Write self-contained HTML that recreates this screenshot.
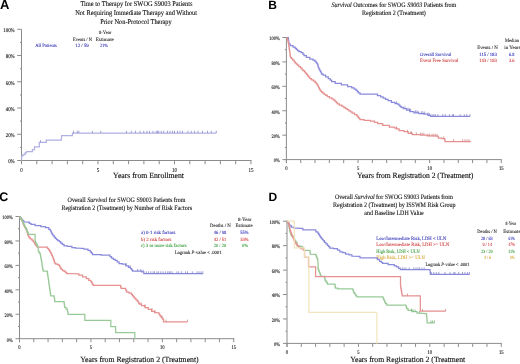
<!DOCTYPE html>
<html><head><meta charset="utf-8"><style>
html,body{margin:0;padding:0;background:#fff;width:520px;height:364px;overflow:hidden}
svg{display:block;will-change:transform}

</style></head><body>
<svg width="520" height="364" viewBox="0 0 520 364" font-family="Liberation Serif" text-rendering="geometricPrecision">
<rect width="520" height="364" fill="#fff"/>
<text x="0" y="8.5" font-size="13" fill="#000" font-family="Liberation Sans" font-weight="bold">A</text>
<text x="268.2" y="9.4" font-size="12" fill="#000" font-family="Liberation Sans" font-weight="bold">B</text>
<text x="-0.7" y="201.1" font-size="12.5" fill="#000" font-family="Liberation Sans" font-weight="bold">C</text>
<text x="268.4" y="201.4" font-size="12" fill="#000" font-family="Liberation Sans" font-weight="bold">D</text>
<text transform="translate(80.4 5.6) scale(1 1.1)" font-size="6.5" fill="#111" stroke="#111" stroke-width="0.1" textLength="112.1" lengthAdjust="spacingAndGlyphs">Time to Therapy for SWOG S9003 Patients</text>
<text transform="translate(75.2 14.6) scale(1 1.1)" font-size="6.5" fill="#111" stroke="#111" stroke-width="0.1" textLength="121.9" lengthAdjust="spacingAndGlyphs">Not Requiring Immediate Therapy and Without</text>
<text transform="translate(100.2 23.8) scale(1 1.1)" font-size="6.5" fill="#111" stroke="#111" stroke-width="0.1" textLength="71.5" lengthAdjust="spacingAndGlyphs">Prior Non-Protocol Therapy</text>
<text transform="translate(331.5 6.6) scale(1 1.1)" font-size="6.2" fill="#111" stroke="#111" stroke-width="0.1" textLength="124.7" lengthAdjust="spacingAndGlyphs"><tspan font-style="italic">Survival</tspan> Outcomes for SWOG <tspan font-style="italic">S9003</tspan> Patients from</text>
<text transform="translate(362 14.8) scale(1 1.1)" font-size="6.2" fill="#111" stroke="#111" stroke-width="0.1" textLength="63.8" lengthAdjust="spacingAndGlyphs">Registration 2 (Treatment)</text>
<text transform="translate(67.6 202.2) scale(1 1.1)" font-size="6.2" fill="#111" stroke="#111" stroke-width="0.1" textLength="117.9" lengthAdjust="spacingAndGlyphs">Overall <tspan font-style="italic">Survival</tspan> for SWOG S9003 Patients from</text>
<text transform="translate(61.4 210.3) scale(1 1.1)" font-size="6.2" fill="#111" stroke="#111" stroke-width="0.1" textLength="130.6" lengthAdjust="spacingAndGlyphs">Registration 2 (Treatment) by Number of Risk Factors</text>
<text transform="translate(335 198.5) scale(1 1.1)" font-size="6.2" fill="#111" stroke="#111" stroke-width="0.1" textLength="118" lengthAdjust="spacingAndGlyphs">Overall <tspan font-style="italic">Survival</tspan> for SWOG S9003 Patients from</text>
<text transform="translate(333 206.8) scale(1 1.1)" font-size="6.2" fill="#111" stroke="#111" stroke-width="0.1" textLength="122.5" lengthAdjust="spacingAndGlyphs">Registration 2 (Treatment) by ISSWM Risk Group</text>
<text transform="translate(364.3 215.3) scale(1 1.1)" font-size="6.2" fill="#111" stroke="#111" stroke-width="0.1" textLength="59.4" lengthAdjust="spacingAndGlyphs">and Baseline LDH Value</text>
<line x1="21.5" y1="29.3" x2="21.5" y2="164" stroke="#8c8c8c" stroke-width="1"/>
<line x1="21" y1="160.5" x2="251.5" y2="160.5" stroke="#8c8c8c" stroke-width="1"/>
<line x1="17.22" y1="160.5" x2="21.5" y2="160.5" stroke="#8c8c8c" stroke-width="1"/>
<text transform="translate(14.7 163.45) scale(1 1.15)" font-size="4.9" fill="#222" stroke="#222" stroke-width="0.12" text-anchor="end">0%</text>
<line x1="20" y1="147.38" x2="21.5" y2="147.38" stroke="#8c8c8c" stroke-width="1"/>
<line x1="17.22" y1="134.26" x2="21.5" y2="134.26" stroke="#8c8c8c" stroke-width="1"/>
<text transform="translate(14.7 137.21) scale(1 1.15)" font-size="4.9" fill="#222" stroke="#222" stroke-width="0.12" text-anchor="end">20%</text>
<line x1="20" y1="121.14" x2="21.5" y2="121.14" stroke="#8c8c8c" stroke-width="1"/>
<line x1="17.22" y1="108.02" x2="21.5" y2="108.02" stroke="#8c8c8c" stroke-width="1"/>
<text transform="translate(14.7 110.97) scale(1 1.15)" font-size="4.9" fill="#222" stroke="#222" stroke-width="0.12" text-anchor="end">40%</text>
<line x1="20" y1="94.9" x2="21.5" y2="94.9" stroke="#8c8c8c" stroke-width="1"/>
<line x1="17.22" y1="81.78" x2="21.5" y2="81.78" stroke="#8c8c8c" stroke-width="1"/>
<text transform="translate(14.7 84.73) scale(1 1.15)" font-size="4.9" fill="#222" stroke="#222" stroke-width="0.12" text-anchor="end">60%</text>
<line x1="20" y1="68.66" x2="21.5" y2="68.66" stroke="#8c8c8c" stroke-width="1"/>
<line x1="17.22" y1="55.54" x2="21.5" y2="55.54" stroke="#8c8c8c" stroke-width="1"/>
<text transform="translate(14.7 58.49) scale(1 1.15)" font-size="4.9" fill="#222" stroke="#222" stroke-width="0.12" text-anchor="end">80%</text>
<line x1="20" y1="42.42" x2="21.5" y2="42.42" stroke="#8c8c8c" stroke-width="1"/>
<line x1="17.22" y1="29.3" x2="21.5" y2="29.3" stroke="#8c8c8c" stroke-width="1"/>
<text transform="translate(14.7 32.25) scale(1 1.15)" font-size="4.9" fill="#222" stroke="#222" stroke-width="0.12" text-anchor="end">100%</text>
<line x1="21.5" y1="160.5" x2="21.5" y2="164.25" stroke="#8c8c8c" stroke-width="1"/>
<text transform="translate(21.5 171.55) scale(1 1.2)" font-size="5" fill="#222" stroke="#222" stroke-width="0.1" text-anchor="middle">0</text>
<line x1="36.8" y1="160.5" x2="36.8" y2="164.25" stroke="#8c8c8c" stroke-width="1"/>
<line x1="52.1" y1="160.5" x2="52.1" y2="164.25" stroke="#8c8c8c" stroke-width="1"/>
<line x1="67.4" y1="160.5" x2="67.4" y2="164.25" stroke="#8c8c8c" stroke-width="1"/>
<line x1="82.7" y1="160.5" x2="82.7" y2="164.25" stroke="#8c8c8c" stroke-width="1"/>
<line x1="98" y1="160.5" x2="98" y2="164.25" stroke="#8c8c8c" stroke-width="1"/>
<text transform="translate(98 171.55) scale(1 1.2)" font-size="5" fill="#222" stroke="#222" stroke-width="0.1" text-anchor="middle">5</text>
<line x1="113.3" y1="160.5" x2="113.3" y2="164.25" stroke="#8c8c8c" stroke-width="1"/>
<line x1="128.6" y1="160.5" x2="128.6" y2="164.25" stroke="#8c8c8c" stroke-width="1"/>
<line x1="143.9" y1="160.5" x2="143.9" y2="164.25" stroke="#8c8c8c" stroke-width="1"/>
<line x1="159.2" y1="160.5" x2="159.2" y2="164.25" stroke="#8c8c8c" stroke-width="1"/>
<line x1="174.5" y1="160.5" x2="174.5" y2="164.25" stroke="#8c8c8c" stroke-width="1"/>
<text transform="translate(174.5 171.55) scale(1 1.2)" font-size="5" fill="#222" stroke="#222" stroke-width="0.1" text-anchor="middle">10</text>
<line x1="189.8" y1="160.5" x2="189.8" y2="164.25" stroke="#8c8c8c" stroke-width="1"/>
<line x1="205.1" y1="160.5" x2="205.1" y2="164.25" stroke="#8c8c8c" stroke-width="1"/>
<line x1="220.4" y1="160.5" x2="220.4" y2="164.25" stroke="#8c8c8c" stroke-width="1"/>
<line x1="235.7" y1="160.5" x2="235.7" y2="164.25" stroke="#8c8c8c" stroke-width="1"/>
<line x1="251" y1="160.5" x2="251" y2="164.25" stroke="#8c8c8c" stroke-width="1"/>
<text transform="translate(251 171.55) scale(1 1.2)" font-size="5" fill="#222" stroke="#222" stroke-width="0.1" text-anchor="middle">15</text>
<line x1="286.4" y1="37.5" x2="286.4" y2="163.1" stroke="#8c8c8c" stroke-width="1"/>
<line x1="285.9" y1="159.6" x2="501.75" y2="159.6" stroke="#8c8c8c" stroke-width="1"/>
<line x1="282.4" y1="159.6" x2="286.4" y2="159.6" stroke="#8c8c8c" stroke-width="1"/>
<text transform="translate(279.8 162.4) scale(1 1.15)" font-size="4.5" fill="#222" stroke="#222" stroke-width="0.12" text-anchor="end">0%</text>
<line x1="284.9" y1="147.39" x2="286.4" y2="147.39" stroke="#8c8c8c" stroke-width="1"/>
<line x1="282.4" y1="135.18" x2="286.4" y2="135.18" stroke="#8c8c8c" stroke-width="1"/>
<text transform="translate(279.8 137.98) scale(1 1.15)" font-size="4.5" fill="#222" stroke="#222" stroke-width="0.12" text-anchor="end">20%</text>
<line x1="284.9" y1="122.97" x2="286.4" y2="122.97" stroke="#8c8c8c" stroke-width="1"/>
<line x1="282.4" y1="110.76" x2="286.4" y2="110.76" stroke="#8c8c8c" stroke-width="1"/>
<text transform="translate(279.8 113.56) scale(1 1.15)" font-size="4.5" fill="#222" stroke="#222" stroke-width="0.12" text-anchor="end">40%</text>
<line x1="284.9" y1="98.55" x2="286.4" y2="98.55" stroke="#8c8c8c" stroke-width="1"/>
<line x1="282.4" y1="86.34" x2="286.4" y2="86.34" stroke="#8c8c8c" stroke-width="1"/>
<text transform="translate(279.8 89.14) scale(1 1.15)" font-size="4.5" fill="#222" stroke="#222" stroke-width="0.12" text-anchor="end">60%</text>
<line x1="284.9" y1="74.13" x2="286.4" y2="74.13" stroke="#8c8c8c" stroke-width="1"/>
<line x1="282.4" y1="61.92" x2="286.4" y2="61.92" stroke="#8c8c8c" stroke-width="1"/>
<text transform="translate(279.8 64.72) scale(1 1.15)" font-size="4.5" fill="#222" stroke="#222" stroke-width="0.12" text-anchor="end">80%</text>
<line x1="284.9" y1="49.71" x2="286.4" y2="49.71" stroke="#8c8c8c" stroke-width="1"/>
<line x1="282.4" y1="37.5" x2="286.4" y2="37.5" stroke="#8c8c8c" stroke-width="1"/>
<text transform="translate(279.8 40.3) scale(1 1.15)" font-size="4.5" fill="#222" stroke="#222" stroke-width="0.12" text-anchor="end">100%</text>
<line x1="286.4" y1="159.6" x2="286.4" y2="163.1" stroke="#8c8c8c" stroke-width="1"/>
<text transform="translate(286.4 169.9) scale(1 1.2)" font-size="4.6" fill="#222" stroke="#222" stroke-width="0.1" text-anchor="middle">0</text>
<line x1="300.72" y1="159.6" x2="300.72" y2="163.1" stroke="#8c8c8c" stroke-width="1"/>
<line x1="315.05" y1="159.6" x2="315.05" y2="163.1" stroke="#8c8c8c" stroke-width="1"/>
<line x1="329.37" y1="159.6" x2="329.37" y2="163.1" stroke="#8c8c8c" stroke-width="1"/>
<line x1="343.69" y1="159.6" x2="343.69" y2="163.1" stroke="#8c8c8c" stroke-width="1"/>
<line x1="358.02" y1="159.6" x2="358.02" y2="163.1" stroke="#8c8c8c" stroke-width="1"/>
<text transform="translate(358.02 169.9) scale(1 1.2)" font-size="4.6" fill="#222" stroke="#222" stroke-width="0.1" text-anchor="middle">5</text>
<line x1="372.34" y1="159.6" x2="372.34" y2="163.1" stroke="#8c8c8c" stroke-width="1"/>
<line x1="386.66" y1="159.6" x2="386.66" y2="163.1" stroke="#8c8c8c" stroke-width="1"/>
<line x1="400.99" y1="159.6" x2="400.99" y2="163.1" stroke="#8c8c8c" stroke-width="1"/>
<line x1="415.31" y1="159.6" x2="415.31" y2="163.1" stroke="#8c8c8c" stroke-width="1"/>
<line x1="429.63" y1="159.6" x2="429.63" y2="163.1" stroke="#8c8c8c" stroke-width="1"/>
<text transform="translate(429.63 169.9) scale(1 1.2)" font-size="4.6" fill="#222" stroke="#222" stroke-width="0.1" text-anchor="middle">10</text>
<line x1="443.96" y1="159.6" x2="443.96" y2="163.1" stroke="#8c8c8c" stroke-width="1"/>
<line x1="458.28" y1="159.6" x2="458.28" y2="163.1" stroke="#8c8c8c" stroke-width="1"/>
<line x1="472.6" y1="159.6" x2="472.6" y2="163.1" stroke="#8c8c8c" stroke-width="1"/>
<line x1="486.93" y1="159.6" x2="486.93" y2="163.1" stroke="#8c8c8c" stroke-width="1"/>
<line x1="501.25" y1="159.6" x2="501.25" y2="163.1" stroke="#8c8c8c" stroke-width="1"/>
<text transform="translate(501.25 169.9) scale(1 1.2)" font-size="4.6" fill="#222" stroke="#222" stroke-width="0.1" text-anchor="middle">15</text>
<line x1="19.5" y1="216.5" x2="19.5" y2="342.2" stroke="#8c8c8c" stroke-width="1"/>
<line x1="19" y1="338.7" x2="234.25" y2="338.7" stroke="#8c8c8c" stroke-width="1"/>
<line x1="15.5" y1="338.7" x2="19.5" y2="338.7" stroke="#8c8c8c" stroke-width="1"/>
<text transform="translate(12.7 341.5) scale(1 1.15)" font-size="4.5" fill="#222" stroke="#222" stroke-width="0.12" text-anchor="end">0%</text>
<line x1="18" y1="326.48" x2="19.5" y2="326.48" stroke="#8c8c8c" stroke-width="1"/>
<line x1="15.5" y1="314.26" x2="19.5" y2="314.26" stroke="#8c8c8c" stroke-width="1"/>
<text transform="translate(12.7 317.06) scale(1 1.15)" font-size="4.5" fill="#222" stroke="#222" stroke-width="0.12" text-anchor="end">20%</text>
<line x1="18" y1="302.04" x2="19.5" y2="302.04" stroke="#8c8c8c" stroke-width="1"/>
<line x1="15.5" y1="289.82" x2="19.5" y2="289.82" stroke="#8c8c8c" stroke-width="1"/>
<text transform="translate(12.7 292.62) scale(1 1.15)" font-size="4.5" fill="#222" stroke="#222" stroke-width="0.12" text-anchor="end">40%</text>
<line x1="18" y1="277.6" x2="19.5" y2="277.6" stroke="#8c8c8c" stroke-width="1"/>
<line x1="15.5" y1="265.38" x2="19.5" y2="265.38" stroke="#8c8c8c" stroke-width="1"/>
<text transform="translate(12.7 268.18) scale(1 1.15)" font-size="4.5" fill="#222" stroke="#222" stroke-width="0.12" text-anchor="end">60%</text>
<line x1="18" y1="253.16" x2="19.5" y2="253.16" stroke="#8c8c8c" stroke-width="1"/>
<line x1="15.5" y1="240.94" x2="19.5" y2="240.94" stroke="#8c8c8c" stroke-width="1"/>
<text transform="translate(12.7 243.74) scale(1 1.15)" font-size="4.5" fill="#222" stroke="#222" stroke-width="0.12" text-anchor="end">80%</text>
<line x1="18" y1="228.72" x2="19.5" y2="228.72" stroke="#8c8c8c" stroke-width="1"/>
<line x1="15.5" y1="216.5" x2="19.5" y2="216.5" stroke="#8c8c8c" stroke-width="1"/>
<text transform="translate(12.7 219.3) scale(1 1.15)" font-size="4.5" fill="#222" stroke="#222" stroke-width="0.12" text-anchor="end">100%</text>
<line x1="19.5" y1="338.7" x2="19.5" y2="342.2" stroke="#8c8c8c" stroke-width="1"/>
<text transform="translate(19.5 349) scale(1 1.2)" font-size="4.6" fill="#222" stroke="#222" stroke-width="0.1" text-anchor="middle">0</text>
<line x1="33.78" y1="338.7" x2="33.78" y2="342.2" stroke="#8c8c8c" stroke-width="1"/>
<line x1="48.07" y1="338.7" x2="48.07" y2="342.2" stroke="#8c8c8c" stroke-width="1"/>
<line x1="62.35" y1="338.7" x2="62.35" y2="342.2" stroke="#8c8c8c" stroke-width="1"/>
<line x1="76.63" y1="338.7" x2="76.63" y2="342.2" stroke="#8c8c8c" stroke-width="1"/>
<line x1="90.92" y1="338.7" x2="90.92" y2="342.2" stroke="#8c8c8c" stroke-width="1"/>
<text transform="translate(90.92 349) scale(1 1.2)" font-size="4.6" fill="#222" stroke="#222" stroke-width="0.1" text-anchor="middle">5</text>
<line x1="105.2" y1="338.7" x2="105.2" y2="342.2" stroke="#8c8c8c" stroke-width="1"/>
<line x1="119.48" y1="338.7" x2="119.48" y2="342.2" stroke="#8c8c8c" stroke-width="1"/>
<line x1="133.77" y1="338.7" x2="133.77" y2="342.2" stroke="#8c8c8c" stroke-width="1"/>
<line x1="148.05" y1="338.7" x2="148.05" y2="342.2" stroke="#8c8c8c" stroke-width="1"/>
<line x1="162.33" y1="338.7" x2="162.33" y2="342.2" stroke="#8c8c8c" stroke-width="1"/>
<text transform="translate(162.33 349) scale(1 1.2)" font-size="4.6" fill="#222" stroke="#222" stroke-width="0.1" text-anchor="middle">10</text>
<line x1="176.62" y1="338.7" x2="176.62" y2="342.2" stroke="#8c8c8c" stroke-width="1"/>
<line x1="190.9" y1="338.7" x2="190.9" y2="342.2" stroke="#8c8c8c" stroke-width="1"/>
<line x1="205.18" y1="338.7" x2="205.18" y2="342.2" stroke="#8c8c8c" stroke-width="1"/>
<line x1="219.47" y1="338.7" x2="219.47" y2="342.2" stroke="#8c8c8c" stroke-width="1"/>
<line x1="233.75" y1="338.7" x2="233.75" y2="342.2" stroke="#8c8c8c" stroke-width="1"/>
<text transform="translate(233.75 349) scale(1 1.2)" font-size="4.6" fill="#222" stroke="#222" stroke-width="0.1" text-anchor="middle">15</text>
<line x1="287" y1="221.2" x2="287" y2="346.9" stroke="#8c8c8c" stroke-width="1"/>
<line x1="286.5" y1="343.4" x2="501.75" y2="343.4" stroke="#8c8c8c" stroke-width="1"/>
<line x1="283" y1="343.4" x2="287" y2="343.4" stroke="#8c8c8c" stroke-width="1"/>
<text transform="translate(280.1 346.2) scale(1 1.15)" font-size="4.5" fill="#222" stroke="#222" stroke-width="0.12" text-anchor="end">0%</text>
<line x1="285.5" y1="331.18" x2="287" y2="331.18" stroke="#8c8c8c" stroke-width="1"/>
<line x1="283" y1="318.96" x2="287" y2="318.96" stroke="#8c8c8c" stroke-width="1"/>
<text transform="translate(280.1 321.76) scale(1 1.15)" font-size="4.5" fill="#222" stroke="#222" stroke-width="0.12" text-anchor="end">20%</text>
<line x1="285.5" y1="306.74" x2="287" y2="306.74" stroke="#8c8c8c" stroke-width="1"/>
<line x1="283" y1="294.52" x2="287" y2="294.52" stroke="#8c8c8c" stroke-width="1"/>
<text transform="translate(280.1 297.32) scale(1 1.15)" font-size="4.5" fill="#222" stroke="#222" stroke-width="0.12" text-anchor="end">40%</text>
<line x1="285.5" y1="282.3" x2="287" y2="282.3" stroke="#8c8c8c" stroke-width="1"/>
<line x1="283" y1="270.08" x2="287" y2="270.08" stroke="#8c8c8c" stroke-width="1"/>
<text transform="translate(280.1 272.88) scale(1 1.15)" font-size="4.5" fill="#222" stroke="#222" stroke-width="0.12" text-anchor="end">60%</text>
<line x1="285.5" y1="257.86" x2="287" y2="257.86" stroke="#8c8c8c" stroke-width="1"/>
<line x1="283" y1="245.64" x2="287" y2="245.64" stroke="#8c8c8c" stroke-width="1"/>
<text transform="translate(280.1 248.44) scale(1 1.15)" font-size="4.5" fill="#222" stroke="#222" stroke-width="0.12" text-anchor="end">80%</text>
<line x1="285.5" y1="233.42" x2="287" y2="233.42" stroke="#8c8c8c" stroke-width="1"/>
<line x1="283" y1="221.2" x2="287" y2="221.2" stroke="#8c8c8c" stroke-width="1"/>
<text transform="translate(280.1 224) scale(1 1.15)" font-size="4.5" fill="#222" stroke="#222" stroke-width="0.12" text-anchor="end">100%</text>
<line x1="287" y1="343.4" x2="287" y2="346.9" stroke="#8c8c8c" stroke-width="1"/>
<text transform="translate(287 353.7) scale(1 1.2)" font-size="4.6" fill="#222" stroke="#222" stroke-width="0.1" text-anchor="middle">0</text>
<line x1="301.28" y1="343.4" x2="301.28" y2="346.9" stroke="#8c8c8c" stroke-width="1"/>
<line x1="315.57" y1="343.4" x2="315.57" y2="346.9" stroke="#8c8c8c" stroke-width="1"/>
<line x1="329.85" y1="343.4" x2="329.85" y2="346.9" stroke="#8c8c8c" stroke-width="1"/>
<line x1="344.13" y1="343.4" x2="344.13" y2="346.9" stroke="#8c8c8c" stroke-width="1"/>
<line x1="358.42" y1="343.4" x2="358.42" y2="346.9" stroke="#8c8c8c" stroke-width="1"/>
<text transform="translate(358.42 353.7) scale(1 1.2)" font-size="4.6" fill="#222" stroke="#222" stroke-width="0.1" text-anchor="middle">5</text>
<line x1="372.7" y1="343.4" x2="372.7" y2="346.9" stroke="#8c8c8c" stroke-width="1"/>
<line x1="386.98" y1="343.4" x2="386.98" y2="346.9" stroke="#8c8c8c" stroke-width="1"/>
<line x1="401.27" y1="343.4" x2="401.27" y2="346.9" stroke="#8c8c8c" stroke-width="1"/>
<line x1="415.55" y1="343.4" x2="415.55" y2="346.9" stroke="#8c8c8c" stroke-width="1"/>
<line x1="429.83" y1="343.4" x2="429.83" y2="346.9" stroke="#8c8c8c" stroke-width="1"/>
<text transform="translate(429.83 353.7) scale(1 1.2)" font-size="4.6" fill="#222" stroke="#222" stroke-width="0.1" text-anchor="middle">10</text>
<line x1="444.12" y1="343.4" x2="444.12" y2="346.9" stroke="#8c8c8c" stroke-width="1"/>
<line x1="458.4" y1="343.4" x2="458.4" y2="346.9" stroke="#8c8c8c" stroke-width="1"/>
<line x1="472.68" y1="343.4" x2="472.68" y2="346.9" stroke="#8c8c8c" stroke-width="1"/>
<line x1="486.97" y1="343.4" x2="486.97" y2="346.9" stroke="#8c8c8c" stroke-width="1"/>
<line x1="501.25" y1="343.4" x2="501.25" y2="346.9" stroke="#8c8c8c" stroke-width="1"/>
<text transform="translate(501.25 353.7) scale(1 1.2)" font-size="4.6" fill="#222" stroke="#222" stroke-width="0.1" text-anchor="middle">15</text>
<text x="113.1" y="178" font-size="8" fill="#111" stroke="#111" stroke-width="0.14" textLength="70.9" lengthAdjust="spacingAndGlyphs">Years from Enrollment</text>
<text x="357" y="178.2" font-size="8" fill="#111" stroke="#111" stroke-width="0.14" textLength="116.4" lengthAdjust="spacingAndGlyphs">Years from Registration 2 (Treatment)</text>
<text x="80.2" y="362.4" font-size="8" fill="#111" stroke="#111" stroke-width="0.14" textLength="118.5" lengthAdjust="spacingAndGlyphs">Years from Registration 2 (Treatment)</text>
<text x="350.2" y="362" font-size="8" fill="#111" stroke="#111" stroke-width="0.14" textLength="115" lengthAdjust="spacingAndGlyphs">Years from Registration 2 (Treatment</text>
<text transform="translate(98.9 34.35) scale(1 1.1)" font-size="4.4" fill="#222" stroke="#222" stroke-width="0.08" textLength="12.4" lengthAdjust="spacingAndGlyphs">8-Year</text>
<text transform="translate(72.9 40.75) scale(1 1.1)" font-size="4.4" fill="#222" stroke="#222" stroke-width="0.08" textLength="19" lengthAdjust="spacingAndGlyphs">Events / N</text>
<text transform="translate(95.7 40.75) scale(1 1.1)" font-size="4.4" fill="#222" stroke="#222" stroke-width="0.08" textLength="18.2" lengthAdjust="spacingAndGlyphs">Estimate</text>
<text transform="translate(35.2 46.75) scale(1 1.1)" font-size="4.4" fill="#3434b8" stroke="#3434b8" stroke-width="0.08" textLength="21.6" lengthAdjust="spacingAndGlyphs">All Patients</text>
<text transform="translate(75.3 46.75) scale(1 1.1)" font-size="4.4" fill="#3434b8" stroke="#3434b8" stroke-width="0.08" textLength="13.5" lengthAdjust="spacingAndGlyphs">12 / 59</text>
<text transform="translate(100 46.75) scale(1 1.1)" font-size="4.4" fill="#3434b8" stroke="#3434b8" stroke-width="0.08" textLength="7.9" lengthAdjust="spacingAndGlyphs">21%</text>
<text transform="translate(504.9 42.15) scale(1 1.1)" font-size="4.4" fill="#222" stroke="#222" stroke-width="0.08" textLength="14.1" lengthAdjust="spacingAndGlyphs">Median</text>
<text transform="translate(504.3 49.15) scale(1 1.1)" font-size="4.4" fill="#222" stroke="#222" stroke-width="0.08" textLength="16.5" lengthAdjust="spacingAndGlyphs">in Years</text>
<text transform="translate(477.2 49.15) scale(1 1.1)" font-size="4.4" fill="#222" stroke="#222" stroke-width="0.08" textLength="20.6" lengthAdjust="spacingAndGlyphs">Events / N</text>
<text transform="translate(420 55.65) scale(1 1.1)" font-size="4.4" fill="#3434b8" stroke="#3434b8" stroke-width="0.08" textLength="31.4" lengthAdjust="spacingAndGlyphs">Overall Survival</text>
<text transform="translate(479.2 55.65) scale(1 1.1)" font-size="4.4" fill="#3434b8" stroke="#3434b8" stroke-width="0.08" textLength="17.6" lengthAdjust="spacingAndGlyphs">115 / 183</text>
<text transform="translate(508.9 55.65) scale(1 1.1)" font-size="4.4" fill="#3434b8" stroke="#3434b8" stroke-width="0.08" textLength="5.5" lengthAdjust="spacingAndGlyphs">6.8</text>
<text transform="translate(420 61.95) scale(1 1.1)" font-size="4.4" fill="#d04040" stroke="#d04040" stroke-width="0.08" textLength="38.4" lengthAdjust="spacingAndGlyphs">Event Free Survival</text>
<text transform="translate(479.2 61.95) scale(1 1.1)" font-size="4.4" fill="#d04040" stroke="#d04040" stroke-width="0.08" textLength="17.6" lengthAdjust="spacingAndGlyphs">143 / 183</text>
<text transform="translate(508.9 61.95) scale(1 1.1)" font-size="4.4" fill="#d04040" stroke="#d04040" stroke-width="0.08" textLength="5.5" lengthAdjust="spacingAndGlyphs">3.6</text>
<text transform="translate(237.9 220.55) scale(1 1.1)" font-size="4.4" fill="#222" stroke="#222" stroke-width="0.08" textLength="13.4" lengthAdjust="spacingAndGlyphs">8-Year</text>
<text transform="translate(210 227.05) scale(1 1.1)" font-size="4.4" fill="#222" stroke="#222" stroke-width="0.08" textLength="20.7" lengthAdjust="spacingAndGlyphs">Deaths / N</text>
<text transform="translate(235.5 227.05) scale(1 1.1)" font-size="4.4" fill="#222" stroke="#222" stroke-width="0.08" textLength="17.3" lengthAdjust="spacingAndGlyphs">Estimate</text>
<text transform="translate(141 233.75) scale(1 1.1)" font-size="4.4" fill="#3434b8" stroke="#3434b8" stroke-width="0.08" textLength="34.4" lengthAdjust="spacingAndGlyphs">a) 0-1 risk factors</text>
<text transform="translate(213.8 233.75) scale(1 1.1)" font-size="4.4" fill="#3434b8" stroke="#3434b8" stroke-width="0.08" textLength="12.5" lengthAdjust="spacingAndGlyphs">46 / 98</text>
<text transform="translate(240.3 233.75) scale(1 1.1)" font-size="4.4" fill="#3434b8" stroke="#3434b8" stroke-width="0.08" textLength="8.2" lengthAdjust="spacingAndGlyphs">55%</text>
<text transform="translate(141 240.55) scale(1 1.1)" font-size="4.4" fill="#d04040" stroke="#d04040" stroke-width="0.08" textLength="30.5" lengthAdjust="spacingAndGlyphs">b) 2 risk factors</text>
<text transform="translate(213.8 240.55) scale(1 1.1)" font-size="4.4" fill="#d04040" stroke="#d04040" stroke-width="0.08" textLength="12.5" lengthAdjust="spacingAndGlyphs">42 / 51</text>
<text transform="translate(240.3 240.55) scale(1 1.1)" font-size="4.4" fill="#d04040" stroke="#d04040" stroke-width="0.08" textLength="8.2" lengthAdjust="spacingAndGlyphs">33%</text>
<text transform="translate(141 247.25) scale(1 1.1)" font-size="4.4" fill="#3c9c3c" stroke="#3c9c3c" stroke-width="0.08" textLength="45.7" lengthAdjust="spacingAndGlyphs">c) 3 or more risk factors</text>
<text transform="translate(213.8 247.25) scale(1 1.1)" font-size="4.4" fill="#3c9c3c" stroke="#3c9c3c" stroke-width="0.08" textLength="12.3" lengthAdjust="spacingAndGlyphs">20 / 20</text>
<text transform="translate(242 247.25) scale(1 1.1)" font-size="4.4" fill="#3c9c3c" stroke="#3c9c3c" stroke-width="0.08" textLength="6" lengthAdjust="spacingAndGlyphs">0%</text>
<text transform="translate(174.7 254.25) scale(1 1.1)" font-size="4.4" fill="#222" stroke="#222" stroke-width="0.08" textLength="46.8" lengthAdjust="spacingAndGlyphs">Logrank <tspan font-style="italic">P</tspan>-value &lt; .0001</text>
<text transform="translate(505.6 225.45) scale(1 1.1)" font-size="4.4" fill="#222" stroke="#222" stroke-width="0.08" textLength="10.5" lengthAdjust="spacingAndGlyphs">8-Year</text>
<text transform="translate(477.3 233.25) scale(1 1.1)" font-size="4.4" fill="#222" stroke="#222" stroke-width="0.08" textLength="19.6" lengthAdjust="spacingAndGlyphs">Deaths / N</text>
<text transform="translate(503.3 233.25) scale(1 1.1)" font-size="4.4" fill="#222" stroke="#222" stroke-width="0.08" textLength="17.3" lengthAdjust="spacingAndGlyphs">Estimate</text>
<text transform="translate(376.3 239.85) scale(1 1.1)" font-size="4.4" fill="#3434b8" stroke="#3434b8" stroke-width="0.08" textLength="70.1" lengthAdjust="spacingAndGlyphs">Low/Intermediate Risk, LDH &lt; ULN</text>
<text transform="translate(481 239.85) scale(1 1.1)" font-size="4.4" fill="#3434b8" stroke="#3434b8" stroke-width="0.08" textLength="11.6" lengthAdjust="spacingAndGlyphs">28 / 63</text>
<text transform="translate(508.4 239.85) scale(1 1.1)" font-size="4.4" fill="#3434b8" stroke="#3434b8" stroke-width="0.08" textLength="6.4" lengthAdjust="spacingAndGlyphs">61%</text>
<text transform="translate(376.3 246.25) scale(1 1.1)" font-size="4.4" fill="#d04040" stroke="#d04040" stroke-width="0.08" textLength="73" lengthAdjust="spacingAndGlyphs">Low/Intermediate Risk, LDH &gt;= ULN</text>
<text transform="translate(482.5 246.25) scale(1 1.1)" font-size="4.4" fill="#d04040" stroke="#d04040" stroke-width="0.08" textLength="9.5" lengthAdjust="spacingAndGlyphs">9 / 14</text>
<text transform="translate(508.4 246.25) scale(1 1.1)" font-size="4.4" fill="#d04040" stroke="#d04040" stroke-width="0.08" textLength="6.6" lengthAdjust="spacingAndGlyphs">47%</text>
<text transform="translate(376.3 252.85) scale(1 1.1)" font-size="4.4" fill="#3c9c3c" stroke="#3c9c3c" stroke-width="0.08" textLength="43.3" lengthAdjust="spacingAndGlyphs">High Risk, LDH &lt; ULN</text>
<text transform="translate(481 252.85) scale(1 1.1)" font-size="4.4" fill="#3c9c3c" stroke="#3c9c3c" stroke-width="0.08" textLength="11.6" lengthAdjust="spacingAndGlyphs">23 / 29</text>
<text transform="translate(508.4 252.85) scale(1 1.1)" font-size="4.4" fill="#3c9c3c" stroke="#3c9c3c" stroke-width="0.08" textLength="6.4" lengthAdjust="spacingAndGlyphs">31%</text>
<text transform="translate(376.3 259.15) scale(1 1.1)" font-size="4.4" fill="#d8a838" stroke="#d8a838" stroke-width="0.08" textLength="48.5" lengthAdjust="spacingAndGlyphs">High Risk, LDH &gt;= ULN</text>
<text transform="translate(484 259.15) scale(1 1.1)" font-size="4.4" fill="#d8a838" stroke="#d8a838" stroke-width="0.08" textLength="7" lengthAdjust="spacingAndGlyphs">4 / 6</text>
<text transform="translate(510 259.15) scale(1 1.1)" font-size="4.4" fill="#d8a838" stroke="#d8a838" stroke-width="0.08" textLength="4.5" lengthAdjust="spacingAndGlyphs">0%</text>
<text transform="translate(425.4 265.85) scale(1 1.1)" font-size="4.4" fill="#222" stroke="#222" stroke-width="0.08" textLength="44.1" lengthAdjust="spacingAndGlyphs">Logrank <tspan font-style="italic">P</tspan>-value &lt; .0001</text>
<polyline points="21.5,160.5 21.7,156.2 22.45,156.2 22.45,155.2 23.2,155.2 23.85,155.2 23.85,154.3 24.5,154.3 25.15,154.3 25.15,152.8 25.8,152.8 26.5,152.8 26.5,151.5 27.2,151.5 32.4,151.5 32.4,149.5 34.5,149.5 34.5,146.9 39.3,146.9 39.3,142.3 46.3,142.3 46.3,140 61.3,140 61.6,135.7 72.2,135.7 72.33,135.7 72.33,134.35 72.58,134.35 72.58,133 72.7,133 216.5,133" fill="none" stroke="#b0b0e4" stroke-width="1.25" stroke-opacity="1" stroke-linejoin="miter"/>
<path d="M40.5 142.3v-2.3M73.5 133v-2.3M77.3 133v-2.3M78.8 133v-2.3M92.4 133v-2.3M100.8 133v-2.3M126.5 133v-2.3M131.25 133v-2.3M135.5 133v-2.3M140 133v-2.3M143.75 133v-2.3M147 133v-2.3M149.5 133v-2.3M153 133v-2.3M156.25 133v-2.3M157.5 133v-2.3M158.75 133v-2.3M161.25 133v-2.3M163.75 133v-2.3M167.5 133v-2.3M170 133v-2.3M172.5 133v-2.3M174.5 133v-2.3M177.5 133v-2.3M180 133v-2.3M182.5 133v-2.3M188 133v-2.3M191.25 133v-2.3M194.5 133v-2.3M198 133v-2.3M202.5 133v-2.3M207.5 133v-2.3M211.25 133v-2.3M216.25 133v-2.3" stroke="#8080c8" stroke-width="0.7" fill="none"/>
<polyline points="286.4,37.6 288.1,37.6 288.35,37.6 288.35,39.5 288.6,39.5 289,43.9 290.2,43.9 290.2,45.5 291.4,45.5 293.05,45.5 293.05,47.2 294.7,47.2 295.25,47.2 295.25,48.3 296.35,48.3 296.35,49.4 297.45,49.4 297.45,50.5 298,50.5 299,50.5 299,51.5 300,51.5 301.15,51.5 301.15,52.7 302.3,52.7 302.88,52.7 302.88,54.15 304.03,54.15 304.03,55.6 304.6,55.6 306.35,55.6 306.35,57.3 308.1,57.3 309.8,57.3 309.8,59 311.5,59 312.95,59 312.95,60.2 314.4,60.2 314.97,60.2 314.97,61.35 316.12,61.35 316.12,62.5 316.7,62.5 317,62.5 317,63.65 317.6,63.65 317.6,64.8 317.9,64.8 318.05,64.8 318.05,66.25 318.35,66.25 318.35,67.7 318.5,67.7 318.93,67.7 318.93,69.15 319.77,69.15 319.77,70.6 320.2,70.6 320.48,70.6 320.48,71.73 321.05,71.73 321.05,72.87 321.62,72.87 321.62,74 321.9,74 323.05,74 323.05,75.2 324.2,75.2 325.65,75.2 325.65,76.9 327.1,76.9 328.25,76.9 328.25,78.7 329.4,78.7 330.15,78.7 330.15,80.15 331.65,80.15 331.65,81.6 332.4,81.6 335.25,81.6 335.25,83.3 338.1,83.3 341.4,83.3 341.4,84.9 344.7,84.9 347.6,84.9 347.6,86.6 350.5,86.6 351.75,86.6 351.75,87.85 354.25,87.85 354.25,89.1 355.5,89.1 356.08,89.1 356.08,90.33 357.25,90.33 357.25,91.57 358.42,91.57 358.42,92.8 359,92.8 360,92.8 360,94 361,94 375.5,94 377.45,94 377.45,95.7 379.4,95.7 380.62,95.7 380.62,96.9 383.07,96.9 383.07,98.1 384.3,98.1 385.55,98.1 385.55,99.35 388.05,99.35 388.05,100.6 389.3,100.6 391.35,100.6 391.35,102.3 393.4,102.3 395.05,102.3 395.05,103.6 396.7,103.6 397.5,103.6 397.5,104.1 398.3,104.1 398.85,104.1 398.85,105.2 399.95,105.2 399.95,106.3 401.05,106.3 401.05,107.4 401.6,107.4 403.25,107.4 403.25,108.6 404.9,108.6 406.55,108.6 406.55,110.05 409.85,110.05 409.85,111.5 411.5,111.5 413.95,111.5 413.95,112.8 416.4,112.8 418.9,112.8 418.9,113.5 421.4,113.5 423.85,113.5 423.85,114 426.3,114 427.95,114 427.95,115.4 429.6,115.4 430.45,115.4 430.45,116.4 431.3,116.4 470,116.4" fill="none" stroke="#8a8adc" stroke-width="1.25" stroke-opacity="1" stroke-linejoin="miter"/>
<path d="M396.6 103.56v-2.3M404.9 108.6v-2.3M408 109.96v-2.3M409.5 110.62v-2.3M410.7 111.15v-2.3M415.6 112.59v-2.3M417 112.88v-2.3M418.1 113.04v-2.3M421.4 113.5v-2.3M423 113.66v-2.3M424.7 113.84v-2.3M428 114.72v-2.3M429.6 115.4v-2.3M432.1 116.4v-2.3M433.8 116.4v-2.3M435.4 116.4v-2.3M437.9 116.4v-2.3M442.8 116.4v-2.3M445.3 116.4v-2.3M449.4 116.4v-2.3M452.7 116.4v-2.3M453.6 116.4v-2.3M460.2 116.4v-2.3M464.3 116.4v-2.3M466.8 116.4v-2.3M470 116.4v-2.3" stroke="#7878c4" stroke-width="0.7" fill="none"/>
<polyline points="286.4,37.6 286.95,37.6 286.95,38.5 287.5,38.5 287.64,38.5 287.64,39.85 287.91,39.85 287.91,41.2 288.19,41.2 288.19,42.55 288.46,42.55 288.46,43.9 288.6,43.9 288.7,43.9 288.7,45.27 288.9,45.27 288.9,46.63 289.1,46.63 289.1,48 289.3,48 289.3,49.37 289.5,49.37 289.5,50.73 289.7,50.73 289.7,52.1 289.8,52.1 289.88,52.1 289.88,53.53 290.05,53.53 290.05,54.97 290.22,54.97 290.22,56.4 290.3,56.4 290.7,56.4 290.7,57.5 291.5,57.5 291.5,58.6 291.9,58.6 292.75,58.6 292.75,60.2 293.6,60.2 294.15,60.2 294.15,61.9 294.7,61.9 295.25,61.9 295.25,63 296.35,63 296.35,64.1 297.45,64.1 297.45,65.2 298,65.2 298.82,65.2 298.82,66.55 300.48,66.55 300.48,67.9 301.3,67.9 301.7,67.9 301.7,68.95 302.5,68.95 302.5,70 302.9,70 303.35,70 303.35,70.6 303.8,70.6 304.35,70.6 304.35,71.87 305.45,71.87 305.45,73.13 306.55,73.13 306.55,74.4 307.1,74.4 307.65,74.4 307.65,75.77 308.75,75.77 308.75,77.13 309.85,77.13 309.85,78.5 310.4,78.5 311.42,78.5 311.42,79.75 313.48,79.75 313.48,81 314.5,81 315.05,81 315.05,82.37 316.15,82.37 316.15,83.73 317.25,83.73 317.25,85.1 317.8,85.1 318.07,85.1 318.07,86.3 318.62,86.3 318.62,87.5 319.18,87.5 319.18,88.7 319.73,88.7 319.73,89.9 320,89.9 320.55,89.9 320.55,91 321.65,91 321.65,92.1 322.75,92.1 322.75,93.2 323.3,93.2 324.12,93.2 324.12,94.3 325.75,94.3 325.75,95.4 327.38,95.4 327.38,96.5 328.2,96.5 329.45,96.5 329.45,97.75 331.95,97.75 331.95,99 333.2,99 333.81,99 333.81,100.22 335.04,100.22 335.04,101.45 336.26,101.45 336.26,102.68 337.49,102.68 337.49,103.9 338.1,103.9 339.35,103.9 339.35,105.15 341.85,105.15 341.85,106.4 343.1,106.4 343.92,106.4 343.92,107.5 345.55,107.5 345.55,108.6 347.18,108.6 347.18,109.7 348,109.7 348.83,109.7 348.83,110.8 350.5,110.8 350.5,111.9 352.17,111.9 352.17,113 353,113 354.65,113 354.65,114.6 356.3,114.6 356.81,114.6 356.81,115.85 357.84,115.85 357.84,117.1 358.86,117.1 358.86,118.35 359.89,118.35 359.89,119.6 360.4,119.6 364.1,119.6 364.1,120.4 367.8,120.4 370.3,120.4 370.3,121.2 372.8,121.2 374.45,121.2 374.45,122.45 377.75,122.45 377.75,123.7 379.4,123.7 382.7,123.7 382.7,125.4 386,125.4 389.3,125.4 389.3,127 392.6,127 394.25,127 394.25,127.8 395.9,127.8 396.25,127.8 396.25,128.8 396.6,128.8 399.1,128.8 399.1,130.5 401.6,130.5 404.05,130.5 404.05,131.6 406.5,131.6 408.15,131.6 408.15,133.3 409.8,133.3 412.3,133.3 412.3,134.6 414.8,134.6 420.55,134.6 420.55,135.1 426.3,135.1 427.15,135.1 427.15,135.9 428,135.9 437.9,136.2 438.1,136.2 438.1,137.2 438.5,137.2 438.5,138.2 438.7,138.2 441.6,138.2 441.6,138.7 444.5,138.7 444.7,138.7 444.7,140.1 445.1,140.1 445.1,141.5 445.3,141.5 470.9,141.5" fill="none" stroke="#e69090" stroke-width="1.25" stroke-opacity="1" stroke-linejoin="miter"/>
<path d="M396.6 128.8v-2.3M407.4 132.06v-2.3M410.7 133.53v-2.3M411.5 133.74v-2.3M416.4 134.67v-2.3M420.6 134.85v-2.3M422.3 134.93v-2.3M423.9 135v-2.3M428 135.9v-2.3M429.6 135.95v-2.3M432 136.02v-2.3M433.7 136.07v-2.3M435.3 136.12v-2.3M437 136.17v-2.3M443.7 138.63v-2.3M453.6 141.5v-2.3M462.6 141.5v-2.3M465 141.5v-2.3M467 141.5v-2.3M469 141.5v-2.3" stroke="#d07c7c" stroke-width="0.7" fill="none"/>
<polyline points="19.5,216.5 20.12,216.5 20.12,217.95 21.38,217.95 21.38,219.4 22,219.4 22.6,219.4 22.6,220.65 23.8,220.65 23.8,221.9 24.4,221.9 28.5,222.2 29.32,222.2 29.32,223.3 30.98,223.3 30.98,224.4 31.8,224.4 35.1,224.4 35.1,225.5 38.4,225.5 40.9,225.5 40.9,226.5 43.4,226.5 45.45,226.5 45.45,227.7 47.5,227.7 48.75,227.7 48.75,229.3 50,229.3 50.31,229.3 50.31,230.55 50.94,230.55 50.94,231.8 51.56,231.8 51.56,233.05 52.19,233.05 52.19,234.3 52.5,234.3 53.05,234.3 53.05,235.67 54.15,235.67 54.15,237.03 55.25,237.03 55.25,238.4 55.8,238.4 56.48,238.4 56.48,239.5 57.85,239.5 57.85,240.6 59.22,240.6 59.22,241.7 59.9,241.7 60.72,241.7 60.72,243.07 62.35,243.07 62.35,244.43 63.98,244.43 63.98,245.8 64.8,245.8 67.3,245.8 67.3,246.3 69.8,246.3 71.85,246.3 71.85,247.5 73.9,247.5 75.15,247.5 75.15,248 76.4,248 81.3,248.3 83.8,248.3 83.8,249.1 86.3,249.1 87.95,249.1 87.95,250.3 89.6,250.3 90.2,250.3 90.2,251.75 91.4,251.75 91.4,253.2 92,253.2 92.55,253.2 92.55,254.5 93.1,254.5 101.15,254.5 101.15,255 109.2,255 109.97,255 109.97,256.55 111.53,256.55 111.53,258.1 112.3,258.1 113.28,258.1 113.28,259.25 115.22,259.25 115.22,260.4 116.2,260.4 117.15,260.4 117.15,261.95 119.05,261.95 119.05,263.5 120,263.5 122.3,263.5 122.3,264.2 124.6,264.2 125.75,264.2 125.75,265.8 126.9,265.8 128.45,265.8 128.45,267.3 130,267.3 130.52,267.3 130.52,268.6 131.55,268.6 131.55,269.9 132.58,269.9 132.58,271.2 133.1,271.2 140,271.2 141.55,271.2 141.55,271.9 143.1,271.9 143.85,271.9 143.85,273.6 144.6,273.6 202.9,273.6" fill="none" stroke="#8a8adc" stroke-width="1.25" stroke-opacity="1" stroke-linejoin="miter"/>
<path d="M126.2 265.31v-2.3M130 267.3v-2.3M137.7 271.2v-2.3M140.8 271.38v-2.3M143.1 271.9v-2.3M146.2 273.6v-2.3M148.5 273.6v-2.3M150.8 273.6v-2.3M153.1 273.6v-2.3M154.6 273.6v-2.3M156.9 273.6v-2.3M158.5 273.6v-2.3M160.8 273.6v-2.3M163.1 273.6v-2.3M165.4 273.6v-2.3M167.7 273.6v-2.3M169.2 273.6v-2.3M170.2 273.6v-2.3M172.1 273.6v-2.3M176.9 273.6v-2.3M178.8 273.6v-2.3M181.7 273.6v-2.3M185.6 273.6v-2.3M187.5 273.6v-2.3M192.3 273.6v-2.3M197.1 273.6v-2.3M199 273.6v-2.3M201 273.6v-2.3M202.9 273.6v-2.3" stroke="#7878c4" stroke-width="0.7" fill="none"/>
<polyline points="19.5,216.5 19.92,216.5 19.92,217.73 20.75,217.73 20.75,218.97 21.58,218.97 21.58,220.2 22,220.2 22.27,220.2 22.27,221.6 22.8,221.6 22.8,223 23.33,223 23.33,224.4 23.6,224.4 23.87,224.4 23.87,225.5 24.4,225.5 24.4,226.6 24.93,226.6 24.93,227.7 25.2,227.7 25.62,227.7 25.62,228.9 26.47,228.9 26.47,230.1 26.9,230.1 27.03,230.1 27.03,231.5 27.3,231.5 27.3,232.9 27.57,232.9 27.57,234.3 27.7,234.3 27.98,234.3 27.98,235.4 28.55,235.4 28.55,236.5 29.12,236.5 29.12,237.6 29.4,237.6 30.23,237.6 30.23,238.8 31.88,238.8 31.88,240 32.7,240 33.1,240 33.1,241.25 33.9,241.25 33.9,242.5 34.3,242.5 34.72,242.5 34.72,243.75 35.58,243.75 35.58,245 36,245 36.4,245 36.4,246 37.2,246 37.2,247 37.6,247 46.7,247 47.33,247 47.33,248.45 48.58,248.45 48.58,249.9 49.2,249.9 49.6,249.9 49.6,251.27 50.4,251.27 50.4,252.63 51.2,252.63 51.2,254 51.6,254 51.88,254 51.88,255.4 52.45,255.4 52.45,256.8 53.02,256.8 53.02,258.2 53.3,258.2 53.5,258.2 53.5,259.43 53.9,259.43 53.9,260.65 54.3,260.65 54.3,261.88 54.7,261.88 54.7,263.1 54.9,263.1 55.75,263.1 55.75,264 56.6,264 57.85,264 57.85,264.8 59.1,264.8 59.37,264.8 59.37,265.9 59.9,265.9 59.9,267 60.43,267 60.43,268.1 60.7,268.1 61.33,268.1 61.33,269.35 62.58,269.35 62.58,270.6 63.2,270.6 64,270.6 64,271.1 64.8,271.1 65.42,271.1 65.42,272.3 66.67,272.3 66.67,273.5 67.3,273.5 78,273.9 78.85,273.9 78.85,275.2 79.7,275.2 82.6,275.2 82.6,276.8 85.5,276.8 86.3,276.8 86.3,278.5 87.1,278.5 88.75,278.5 88.75,280.3 90.4,280.3 90.82,280.3 90.82,281.63 91.65,281.63 91.65,282.97 92.48,282.97 92.48,284.3 92.9,284.3 93.2,284.3 93.2,285.4 93.5,285.4 120.4,285.4 120.62,285.4 120.62,286.85 121.08,286.85 121.08,288.3 121.3,288.3 125.2,288.3 125.52,288.3 125.52,289.57 126.15,289.57 126.15,290.83 126.78,290.83 126.78,292.1 127.1,292.1 129.05,292.1 129.05,293.1 131,293.1 131.47,293.1 131.47,294.37 132.4,294.37 132.4,295.63 133.33,295.63 133.33,296.9 133.8,296.9 134.45,296.9 134.45,298.2 135.75,298.2 135.75,299.5 137.05,299.5 137.05,300.8 137.7,300.8 138.02,300.8 138.02,301.93 138.65,301.93 138.65,303.07 139.28,303.07 139.28,304.2 139.6,304.2 141.55,304.2 141.55,305.6 143.5,305.6 144.9,305.6 144.9,307.5 146.3,307.5 148.25,307.5 148.25,309.4 150.2,309.4 151.65,309.4 151.65,311.3 153.1,311.3 154.55,311.3 154.55,312.7 156,312.7 158.7,312.9 159.02,312.9 159.02,314 159.65,314 159.65,315.1 160.28,315.1 160.28,316.2 160.6,316.2 161.32,316.2 161.32,317.8 162.78,317.8 162.78,319.4 163.5,319.4 163.5,321.9 187.5,321.9" fill="none" stroke="#e69090" stroke-width="1.25" stroke-opacity="1" stroke-linejoin="miter"/>
<path d="M141 304.7v-2.3M145 306.62v-2.3M152 310.58v-2.3M155 312.22v-2.3M162 317.74v-2.3M166 321.9v-2.3M187.5 321.9v-2.3" stroke="#d07c7c" stroke-width="0.7" fill="none"/>
<polyline points="19.5,216.5 19.92,216.5 19.92,217.73 20.75,217.73 20.75,218.97 21.58,218.97 21.58,220.2 22,220.2 22.3,220.2 22.3,221.45 22.9,221.45 22.9,222.7 23.5,222.7 23.5,223.95 24.1,223.95 24.1,225.2 24.4,225.2 24.71,225.2 24.71,226.42 25.34,226.42 25.34,227.65 25.96,227.65 25.96,228.88 26.59,228.88 26.59,230.1 26.9,230.1 27.17,230.1 27.17,231.5 27.7,231.5 27.7,232.9 28.23,232.9 28.23,234.3 28.5,234.3 35.1,234.3 35.1,240.9 35.38,240.9 35.38,242 35.95,242 35.95,243.1 36.52,243.1 36.52,244.2 36.8,244.2 37.02,244.2 37.02,245.3 37.45,245.3 37.45,246.4 37.88,246.4 37.88,247.5 38.1,247.5 38.4,251.6 39.25,251.6 39.25,253.2 40.1,253.2 40.23,253.2 40.23,254.6 40.5,254.6 40.5,256 40.77,256 40.77,257.4 40.9,257.4 41.03,257.4 41.03,258.77 41.3,258.77 41.3,260.13 41.57,260.13 41.57,261.5 41.7,261.5 41.79,261.5 41.79,262.82 41.97,262.82 41.97,264.14 42.15,264.14 42.15,265.46 42.33,265.46 42.33,266.78 42.51,266.78 42.51,268.1 42.6,268.1 42.8,268.1 42.8,269.6 43.2,269.6 43.2,271.1 43.4,271.1 47.2,271.1 47.29,271.1 47.29,272.33 47.48,272.33 47.48,273.57 47.66,273.57 47.66,274.8 47.84,274.8 47.84,276.03 48.02,276.03 48.02,277.27 48.21,277.27 48.21,278.5 48.3,278.5 48.39,278.5 48.39,279.74 48.56,279.74 48.56,280.98 48.74,280.98 48.74,282.21 48.91,282.21 48.91,283.45 49.09,283.45 49.09,284.69 49.26,284.69 49.26,285.92 49.44,285.92 49.44,287.16 49.61,287.16 49.61,288.4 49.7,288.4 49.79,288.4 49.79,289.63 49.98,289.63 49.98,290.87 50.16,290.87 50.16,292.1 50.34,292.1 50.34,293.33 50.52,293.33 50.52,294.57 50.71,294.57 50.71,295.8 50.8,295.8 54.1,295.8 54.2,295.8 54.2,297.25 54.4,297.25 54.4,298.7 54.6,298.7 54.6,300.15 54.8,300.15 54.8,301.6 54.9,301.6 64,301.6 64.1,301.6 64.1,303.05 64.3,303.05 64.3,304.5 64.5,304.5 64.5,305.95 64.7,305.95 64.7,307.4 64.8,307.4 66.05,307.4 66.05,309 67.3,309 67.4,309 67.4,310.32 67.6,310.32 67.6,311.65 67.8,311.65 67.8,312.98 68,312.98 68,314.3 68.1,314.3 84.8,314.3 84.8,320.4 110.8,320.4 110.8,326.7 115.6,326.7 115.6,332.5 134.8,332.5 134.8,338.7" fill="none" stroke="#98ca98" stroke-width="1.25" stroke-opacity="1" stroke-linejoin="miter"/>
<polyline points="287,221.2 287.48,221.2 287.48,222.3 288.42,222.3 288.42,223.4 288.9,223.4 289.22,223.4 289.22,224.65 289.88,224.65 289.88,225.9 290.2,225.9 291.45,225.9 291.45,227.1 292.7,227.1 293.9,227.1 293.9,228.1 295.1,228.1 301.9,228.4 302.85,228.4 302.85,229.9 303.8,229.9 314.3,229.9 315.85,229.9 315.85,231.8 317.4,231.8 317.82,231.8 317.82,233.13 318.65,233.13 318.65,234.47 319.48,234.47 319.48,235.8 319.9,235.8 320.36,235.8 320.36,237.03 321.29,237.03 321.29,238.25 322.21,238.25 322.21,239.47 323.14,239.47 323.14,240.7 323.6,240.7 324.38,240.7 324.38,242.25 325.93,242.25 325.93,243.8 326.7,243.8 327.32,243.8 327.32,245.27 328.55,245.27 328.55,246.73 329.78,246.73 329.78,248.2 330.4,248.2 333.35,248.2 333.35,248.7 336.3,248.7 337.5,248.7 337.5,250.2 338.7,250.2 339.85,250.2 339.85,251.9 341,251.9 342.7,251.9 342.7,252.5 344.4,252.5 345.55,252.5 345.55,254.1 346.7,254.1 349,254.1 349,254.8 351.3,254.8 351.9,254.8 351.9,256.2 352.5,256.2 359.4,256.4 360,256.4 360,257.9 360.6,257.9 376.2,257.9 377.35,257.9 377.35,259.6 378.5,259.6 379.65,259.6 379.65,261.3 380.8,261.3 381.38,261.3 381.38,262.3 382.53,262.3 382.53,263.3 383.1,263.3 388.1,263.3 388.1,264.6 393.1,264.6 394.25,264.6 394.25,265.75 396.55,265.75 396.55,266.9 397.7,266.9 398.57,266.9 398.57,268.3 400.32,268.3 400.32,269.7 401.2,269.7 430,269.7 430.06,269.7 430.06,270.85 430.19,270.85 430.19,272 430.31,272 430.31,273.15 430.44,273.15 430.44,274.3 430.5,274.3 469.5,274.3" fill="none" stroke="#8a8adc" stroke-width="1.25" stroke-opacity="1" stroke-linejoin="miter"/>
<path d="M402.3 269.7v-2.3M404 269.7v-2.3M406 269.7v-2.3M409.2 269.7v-2.3M413.8 269.7v-2.3M416 269.7v-2.3M418 269.7v-2.3M419.6 269.7v-2.3M421.9 269.7v-2.3M424.2 269.7v-2.3M431.25 274.3v-2.3M433.75 274.3v-2.3M436.25 274.3v-2.3M438.75 274.3v-2.3M445 274.3v-2.3M450 274.3v-2.3M453.75 274.3v-2.3M455 274.3v-2.3M458.75 274.3v-2.3M462.5 274.3v-2.3M465 274.3v-2.3M467.5 274.3v-2.3M469.5 274.3v-2.3" stroke="#7878c4" stroke-width="0.7" fill="none"/>
<polyline points="287,221.2 287.38,221.2 287.38,222.6 288.12,222.6 288.12,224 288.5,224 288.62,224 288.62,225.25 288.88,225.25 288.88,226.5 289.12,226.5 289.12,227.75 289.38,227.75 289.38,229 289.5,229 289.67,229 289.67,230.33 290,230.33 290,231.67 290.33,231.67 290.33,233 290.5,233 290.82,233 290.82,234.5 291.48,234.5 291.48,236 291.8,236 293,236 293,237.6 294.2,237.6 294.35,237.6 294.35,238.73 294.65,238.73 294.65,239.87 294.95,239.87 294.95,241 295.1,241 295.9,241 295.9,242.2 296.7,242.2 296.83,242.2 296.83,243.43 297.1,243.43 297.1,244.67 297.37,244.67 297.37,245.9 297.5,245.9 299.6,245.9 299.6,246.3 301.7,246.3 302.2,246.3 302.2,247.35 303.2,247.35 303.2,248.4 303.7,248.4 303.93,248.4 303.93,249.4 304.38,249.4 304.38,250.4 304.6,250.4 309.9,250.4 309.97,250.4 309.97,251.63 310.1,251.63 310.1,252.87 310.23,252.87 310.23,254.1 310.3,254.1 315.7,254.3 316,254.3 316,255.85 316.6,255.85 316.6,257.4 316.9,257.4 317.12,257.4 317.12,258.65 317.57,258.65 317.57,259.9 317.8,259.9 318.2,266 317.8,267.5 318.04,267.5 318.04,268.77 318.51,268.77 318.51,270.04 318.98,270.04 318.98,271.31 319.45,271.31 319.45,272.59 319.92,272.59 319.92,273.86 320.39,273.86 320.39,275.13 320.86,275.13 320.86,276.4 321.1,276.4 324.5,276.4 324.58,276.4 324.58,277.53 324.75,277.53 324.75,278.67 324.92,278.67 324.92,279.8 325,279.8 325.5,279.8 325.5,281.2 326.5,281.2 326.5,282.6 327.5,282.6 327.5,284 328,284 334.8,284 334.92,284 334.92,285.33 335.15,285.33 335.15,286.67 335.38,286.67 335.38,288 335.5,288 337.75,288 337.75,288.8 340,288.8 352.7,288.8 352.88,288.8 352.88,289.97 353.25,289.97 353.25,291.13 353.62,291.13 353.62,292.3 353.8,292.3 354.24,292.3 354.24,293.45 355.11,293.45 355.11,294.6 355.99,294.6 355.99,295.75 356.86,295.75 356.86,296.9 357.3,296.9 382.7,296.9 382.99,296.9 382.99,298.17 383.56,298.17 383.56,299.45 384.14,299.45 384.14,300.73 384.71,300.73 384.71,302 385,302 385.57,302 385.57,303.5 386.73,303.5 386.73,305 387.3,305 405.8,305 405.98,305 405.98,306.17 406.35,306.17 406.35,307.33 406.72,307.33 406.72,308.5 406.9,308.5 408.05,308.5 408.05,310.3 409.2,310.3 411.8,310.3 411.8,311.7 417,311.7 417,313.1 419.6,313.1 426.5,313.5 426.55,313.5 426.55,314.83 426.65,314.83 426.65,316.16 426.75,316.16 426.75,317.49 426.85,317.49 426.85,318.81 426.95,318.81 426.95,320.14 427.05,320.14 427.05,321.47 427.15,321.47 427.15,322.8 427.2,322.8 434.6,322.8" fill="none" stroke="#98ca98" stroke-width="1.25" stroke-opacity="1" stroke-linejoin="miter"/>
<path d="M411.5 310.92v-2.3M413 311.32v-2.3M415 311.86v-2.3M419.6 313.1v-2.3M431 322.8v-2.3M432.5 322.8v-2.3M434.5 322.8v-2.3" stroke="#70b070" stroke-width="0.7" fill="none"/>
<polyline points="287,221.2 287.5,221.2 287.5,222.6 288.5,222.6 288.5,224 289,224 289.12,224 289.12,225.25 289.38,225.25 289.38,226.5 289.62,226.5 289.62,227.75 289.88,227.75 289.88,229 290,229 290.19,229 290.19,230.25 290.56,230.25 290.56,231.5 290.94,231.5 290.94,232.75 291.31,232.75 291.31,234 291.5,234 291.88,234 291.88,235.5 292.62,235.5 292.62,237 293,237 293.25,237 293.25,238.33 293.75,238.33 293.75,239.67 294.25,239.67 294.25,241 294.5,241 295,241 295,242.5 296,242.5 296,244 296.5,244 297.12,244 297.12,245.5 298.38,245.5 298.38,247 299,247 300.4,247 300.4,248.5 303.2,248.5 303.2,250 304.6,250 304.6,257.4 308.5,257.4 308.5,266.8 315.6,266.8 315.6,276.6 400.5,276.6 400.5,285.4 400.61,285.4 400.61,286.7 400.84,286.7 400.84,288 401.06,288 401.06,289.3 401.29,289.3 401.29,290.6 401.51,290.6 401.51,291.9 401.74,291.9 401.74,293.2 401.96,293.2 401.96,294.5 402.19,294.5 402.19,295.8 402.3,295.8 420.3,295.8 420.3,311.2 445.7,311.2" fill="none" stroke="#e69090" stroke-width="1.25" stroke-opacity="1" stroke-linejoin="miter"/>
<path d="M407.5 295.8v-2.3M422.5 311.2v-2.3M445.6 311.2v-2.3" stroke="#d07c7c" stroke-width="0.7" fill="none"/>
<polyline points="287,221.2 294.3,221.2 294.3,247.8 304.3,247.8 304.3,257 308.9,257 308.9,312.3 376.9,312.3 376.9,343.4" fill="none" stroke="#f2e4bc" stroke-width="1.25" stroke-opacity="1" stroke-linejoin="miter"/>
</svg>
</body></html>
